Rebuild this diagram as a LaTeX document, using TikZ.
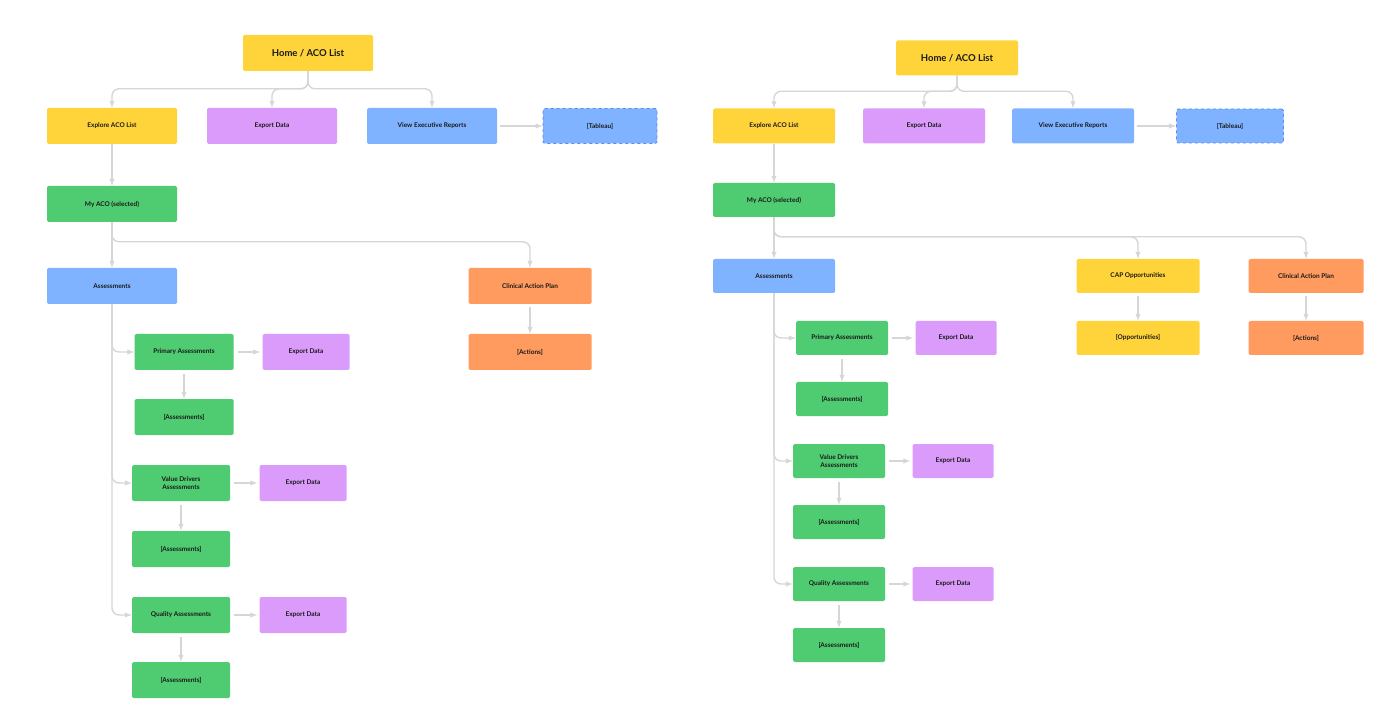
\documentclass[tikz,border=0pt]{standalone}
\usepackage{fontspec}
\setmainfont{Lato}
\usepackage{tikz}

\definecolor{acoyellow}{HTML}{FFD43A}
\definecolor{acopurple}{HTML}{DA9BFB}
\definecolor{acoblue}{HTML}{80B3FF}
\definecolor{acogreen}{HTML}{4FCB71}
\definecolor{acoorange}{HTML}{FF9B5E}
\definecolor{linkgray}{HTML}{D6D6D6}
\definecolor{tabborder}{HTML}{5C8EE0}

\begin{document}
\begin{tikzpicture}[x=1pt,y=-1pt]
    \tikzstyle{every node}=[rectangle,rounded corners=1.5pt,inner sep=1pt,
                            align=center,text=black!90,minimum height=36pt,
                            font=\bfseries\fontsize{6.5}{8.5}\selectfont]
    \tikzstyle{yel}=[fill=acoyellow]
    \tikzstyle{pur}=[fill=acopurple]
    \tikzstyle{blu}=[fill=acoblue]
    \tikzstyle{grn}=[fill=acogreen]
    \tikzstyle{ora}=[fill=acoorange]
    \tikzstyle{tab}=[fill=acoblue,draw=tabborder,dashed,line width=0.8pt]
    \tikzstyle{title}=[font=\bfseries\fontsize{9.5}{11}\selectfont]
    \tikzstyle{link}=[draw=linkgray,line width=1.4pt,rounded corners=7pt]
    \tikzstyle{arr}=[link,-latex]

    \useasboundingbox (0,0) rectangle (1400,708);

    % left version
    \node (a0) [yel,title,minimum width=130pt] at (308,53) {Home / ACO List};
    \node (a1) [yel,minimum width=130pt] at (112,126) {Explore ACO List};
    \node (a2) [pur,minimum width=130pt] at (272,126) {Export Data};
    \node (a3) [blu,minimum width=130pt] at (432,126) {View Executive Reports};
    \node (a4) [tab,minimum width=114pt,minimum height=35pt] at (600,126) {[Tableau]};
    \node (a5) [grn,minimum width=130pt] at (112,204) {My ACO (selected)};
    \node (a6) [blu,minimum width=130pt] at (112,286) {Assessments};
    \node (a7) [ora,minimum width=123pt] at (530,286) {Clinical Action Plan};
    \node (a8) [ora,minimum width=123pt] at (530,352) {[Actions]};
    \node (a9) [grn,minimum width=99pt] at (184,352) {Primary Assessments};
    \node (a10) [pur,minimum width=87pt] at (306,352) {Export Data};
    \node (a11) [grn,minimum width=99pt] at (184,417) {[Assessments]};
    \node (a12) [grn,minimum width=98pt] at (181,483) {Value Drivers\\Assessments};
    \node (a13) [pur,minimum width=87pt] at (303,483) {Export Data};
    \node (a14) [grn,minimum width=98pt] at (181,549) {[Assessments]};
    \node (a15) [grn,minimum width=98pt] at (181,615) {Quality Assessments};
    \node (a16) [pur,minimum width=87pt] at (303,615) {Export Data};
    \node (a17) [grn,minimum width=98pt] at (181,680) {[Assessments]};

    \draw[arr] (a0.south) |- ([yshift=19pt]a1.north) -- (a1.north);
    \draw[arr] (a0.south) |- ([yshift=19pt]a2.north) -- (a2.north);
    \draw[arr] (a0.south) |- ([yshift=19pt]a3.north) -- (a3.north);
    \draw[arr,shorten <=3pt] (a3) -- (a4);
    \draw[arr] (a1) -- (a5);
    \draw[arr] (a5) -- (a6);
    \draw[arr] (a5.south) |- ([yshift=26pt]a7.north) -- (a7.north);
    \draw[arr,shorten <=3pt] (a7) -- (a8);
    \draw[arr] (a6.south) |- (a9.west);
    \draw[arr] (a6.south) |- (a12.west);
    \draw[arr] (a6.south) |- (a15.west);
    \draw[arr,shorten <=4pt,shorten >=2pt] (a9) -- (a10);
    \draw[arr,shorten <=4pt] (a9) -- (a11);
    \draw[arr,shorten <=4pt,shorten >=2pt] (a12) -- (a13);
    \draw[arr,shorten <=4pt] (a12) -- (a14);
    \draw[arr,shorten <=4pt,shorten >=2pt] (a15) -- (a16);
    \draw[arr,shorten <=4pt] (a15) -- (a17);

    % right version
    \node (b0) [yel,title,minimum width=122pt,minimum height=35pt] at (957,58) {Home / ACO List};
    \node (b1) [yel,minimum width=122pt,minimum height=35pt] at (774,126) {Explore ACO List};
    \node (b2) [pur,minimum width=122pt,minimum height=35pt] at (924,126) {Export Data};
    \node (b3) [blu,minimum width=122pt,minimum height=35pt] at (1073,126) {View Executive Reports};
    \node (b4) [tab,minimum width=107pt,minimum height=34pt] at (1230,126) {[Tableau]};
    \node (b5) [grn,minimum width=122pt,minimum height=34pt] at (774,200) {My ACO (selected)};
    \node (b6) [blu,minimum width=122pt,minimum height=34pt] at (774,276) {Assessments};
    \node (b7) [yel,minimum width=123pt,minimum height=34pt] at (1138,276) {CAP Opportunities};
    \node (b8) [yel,minimum width=123pt,minimum height=34pt] at (1138,338) {[Opportunities]};
    \node (b9) [ora,minimum width=115pt,minimum height=34pt] at (1306,276) {Clinical Action Plan};
    \node (b10) [ora,minimum width=115pt,minimum height=34pt] at (1306,338) {[Actions]};
    \node (b11) [grn,minimum width=92pt,minimum height=34pt] at (842,338) {Primary Assessments};
    \node (b12) [pur,minimum width=81pt,minimum height=34pt] at (956,338) {Export Data};
    \node (b13) [grn,minimum width=92pt,minimum height=34pt] at (842,399) {[Assessments]};
    \node (b14) [grn,minimum width=92pt,minimum height=34pt] at (839,461) {Value Drivers\\Assessments};
    \node (b15) [pur,minimum width=81pt,minimum height=34pt] at (953,461) {Export Data};
    \node (b16) [grn,minimum width=92pt,minimum height=34pt] at (839,522) {[Assessments]};
    \node (b17) [grn,minimum width=92pt,minimum height=34pt] at (839,584) {Quality Assessments};
    \node (b18) [pur,minimum width=81pt,minimum height=34pt] at (953,584) {Export Data};
    \node (b19) [grn,minimum width=92pt,minimum height=34pt] at (839,645) {[Assessments]};

    \draw[arr] (b0.south) |- ([yshift=17pt]b1.north) -- (b1.north);
    \draw[arr] (b0.south) |- ([yshift=17pt]b2.north) -- (b2.north);
    \draw[arr] (b0.south) |- ([yshift=17pt]b3.north) -- (b3.north);
    \draw[arr,shorten <=3pt] (b3) -- (b4);
    \draw[arr] (b1) -- (b5);
    \draw[arr] (b5) -- (b6);
    \draw[arr] (b5.south) |- ([yshift=22pt]b7.north) -- (b7.north);
    \draw[arr] (b5.south) |- ([yshift=22pt]b9.north) -- (b9.north);
    \draw[arr,shorten <=3pt] (b7) -- (b8);
    \draw[arr,shorten <=3pt] (b9) -- (b10);
    \draw[arr] (b6.south) |- (b11.west);
    \draw[arr] (b6.south) |- (b14.west);
    \draw[arr] (b6.south) |- (b17.west);
    \draw[arr,shorten <=4pt,shorten >=2pt] (b11) -- (b12);
    \draw[arr,shorten <=4pt] (b11) -- (b13);
    \draw[arr,shorten <=4pt,shorten >=2pt] (b14) -- (b15);
    \draw[arr,shorten <=4pt] (b14) -- (b16);
    \draw[arr,shorten <=4pt,shorten >=2pt] (b17) -- (b18);
    \draw[arr,shorten <=4pt] (b17) -- (b19);
\end{tikzpicture}
\end{document}
